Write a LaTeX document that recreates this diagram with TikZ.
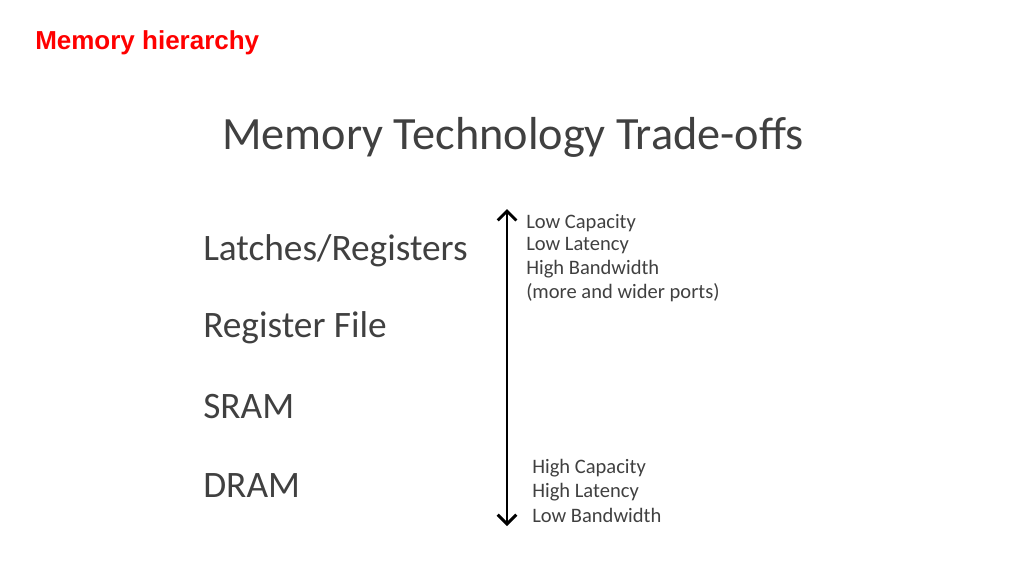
\documentclass[tikz,border=0pt]{standalone}
\usepackage{fontspec}
\setmainfont{Carlito}
\newfontfamily\titlefont{Liberation Sans}
\usetikzlibrary{arrows.meta}
\begin{document}
\begin{tikzpicture}[x=0.75pt,y=-0.75pt,
  lbl/.style={anchor=west,inner sep=0pt,text=black!75},
  big/.style={lbl,font=\fontsize{28}{33}\selectfont},
  small/.style={lbl,font=\fontsize{15.4}{18}\selectfont}]
\useasboundingbox (0,0) rectangle (1024,576);
\node[anchor=west,inner sep=0pt,text=red,font=\titlefont\bfseries\fontsize{19.5}{23}\selectfont] (t) at (35,43) {Memory hierarchy};
\node[lbl,font=\fontsize{34.7}{40}\selectfont] (h) at (222,137) {Memory Technology Trade-offs};
\node[big] (a) at (203,251) {Latches/Registers};
\node[big] (b) at (203,328) {Register File};
\node[big] (c) at (203,407) {SRAM};
\node[big] (d) at (203,486) {DRAM};
\coordinate (top) at (507,209);
\coordinate (bot) at (507,526);
\draw[line width=2.2pt,{Straight Barb[length=7pt,width=14pt]}-{Straight Barb[length=7pt,width=14pt]}] (top) -- (bot);
\node[small] (s1) at (526,223) {Low Capacity};
\node[small] (s2) at (526,246) {Low Latency};
\node[small] (s3) at (526,269) {High Bandwidth};
\node[small] (s4) at (526,293) {(more and wider ports)};
\node[small] (s5) at (532,468) {High Capacity};
\node[small] (s6) at (532,492) {High Latency};
\node[small] (s7) at (532,515) {Low Bandwidth};
\end{tikzpicture}
\end{document}
